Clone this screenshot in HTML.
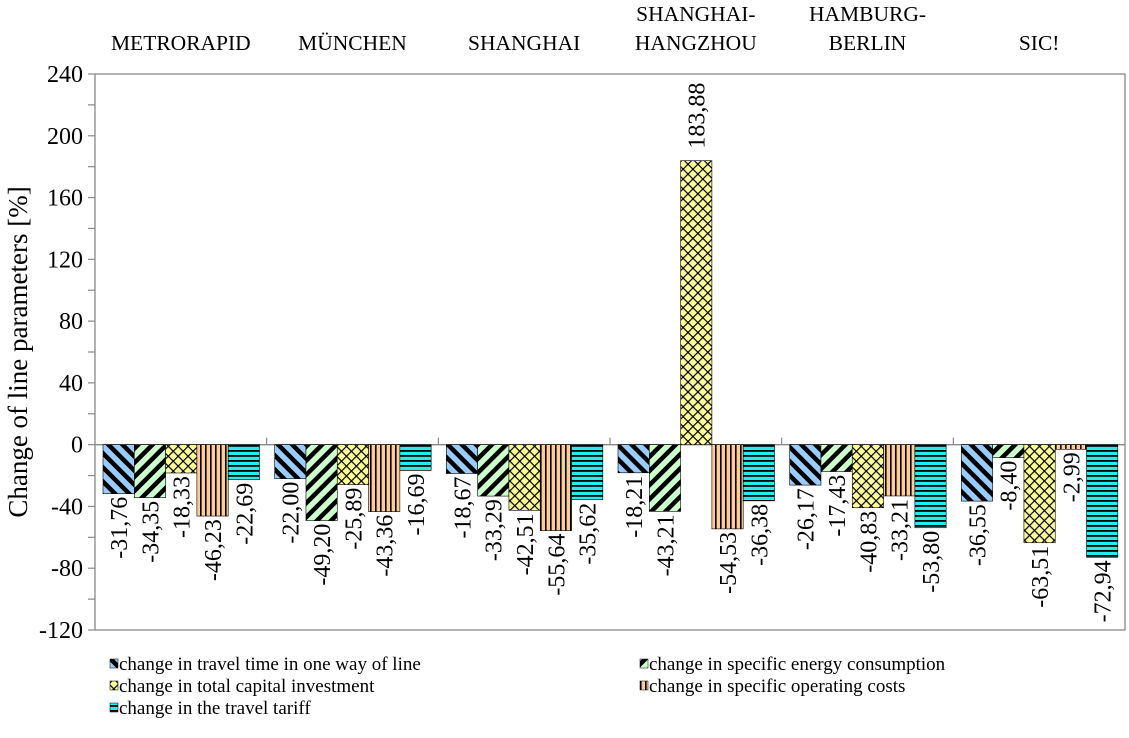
<!DOCTYPE html>
<html><head><meta charset="utf-8"><style>
html,body{margin:0;padding:0;background:#fff;}
svg{display:block;font-family:"Liberation Serif",serif;}
</style></head><body>
<svg id="chart" width="1129" height="738" viewBox="0 0 1129 738" xmlns="http://www.w3.org/2000/svg">
<defs>
<pattern id="p0" patternUnits="userSpaceOnUse" width="10" height="10" patternTransform="rotate(-45)"><rect width="10" height="10" fill="#99ccff"/><rect width="4.5" height="10" fill="#000"/></pattern>
<pattern id="p1" patternUnits="userSpaceOnUse" width="10" height="10" patternTransform="rotate(45)"><rect width="10" height="10" fill="#ccffcc"/><rect width="4.5" height="10" fill="#000"/></pattern>
<pattern id="p2" patternUnits="userSpaceOnUse" width="7" height="7" patternTransform="rotate(45)"><rect width="7" height="7" fill="#ffff99"/><rect width="1.2" height="7" fill="#000"/><rect width="7" height="1.2" fill="#000"/></pattern>
<pattern id="p3" patternUnits="userSpaceOnUse" width="5" height="5"><rect width="5" height="5" fill="#ffcc99"/><rect width="1.6" height="5" fill="#000"/></pattern>
<pattern id="p4" patternUnits="userSpaceOnUse" width="5" height="5"><rect width="5" height="5" fill="#22eeee"/><rect width="5" height="1.8" fill="#000"/></pattern>
</defs>
<g id="axes"></g>
<g id="bars"></g>
<g id="labels"></g>
<g id="legend"></g>
</svg>
<script>
const categories = [["METRORAPID"],["MÜNCHEN"],["SHANGHAI"],["SHANGHAI-","HANGZHOU"],["HAMBURG-","BERLIN"],["SIC!"]];
const seriesNames = ["change in travel time in one way of  line","change in specific energy consumption","change in total capital investment","change in specific operating costs","change in the travel tariff"];
const travelTime = [-31.76,-22.00,-18.67,-18.21,-26.17,-36.55];
const energy = [-34.35,-49.20,-33.29,-43.21,-17.43,-8.40];
const capital = [-18.33,-25.89,-42.51,183.88,-40.83,-63.51];
const operating = [-46.23,-43.36,-55.64,-54.53,-33.21,-2.99];
const tariff = [-22.69,-16.69,-35.62,-36.38,-53.80,-72.94];
const yTicks = [240,200,160,120,80,40,0,-40,-80,-120];
const series = [travelTime, energy, capital, operating, tariff];

const NS = "http://www.w3.org/2000/svg";
const L = 95, R = 1125, T = 74, B = 630, YMAX = 240, YMIN = -120;
const catW = (R - L) / categories.length;
const barW = 31.3, barOff = 8;
function y(v){ return T + (YMAX - v) / (YMAX - YMIN) * (B - T); }
function xBar(c, s){ return L + c * catW + barOff + s * barW; }
function mk(tag, attrs, parent){ const e = document.createElementNS(NS, tag); for (const k in attrs) e.setAttribute(k, attrs[k]); parent.appendChild(e); return e; }
function fmt(v){ return v.toFixed(2).replace('.', ','); }

const axes = document.getElementById('axes');
const frame = mk('rect', {x:L, y:T, width:R-L, height:B-T, fill:'none', stroke:'#888', 'stroke-width':1.3}, axes);


for (let v = YMIN; v <= YMAX; v += 20) {
  const t = mk('line', {x1:L-7, x2:L, y1:y(v), y2:y(v), stroke:'#888', 'stroke-width':1.2}, axes);
  
  
}
yTicks.forEach(v => {
  const t = mk('text', {x:83, y:y(v)+8, 'text-anchor':'end', 'font-size':24}, axes);
  t.textContent = v;
  
  
});
const zl = mk('line', {x1:L, x2:R, y1:y(0), y2:y(0), stroke:'#888', 'stroke-width':1.3}, axes);


for (let c = 1; c < categories.length; c++) {
  const t = mk('line', {x1:L+c*catW, x2:L+c*catW, y1:y(0)-7, y2:y(0), stroke:'#888', 'stroke-width':1.2}, axes);
  
  
}
const yt = mk('text', {x:0, y:0, 'text-anchor':'middle', 'font-size':27, transform:'translate(27,352) rotate(-90)'}, axes);
yt.textContent = 'Change of line parameters [%]';


categories.forEach((lines, c) => {
  const cx = L + c*catW + catW/2;
  lines.forEach((ln, i) => {
    const t = mk('text', {x:cx, y: lines.length === 1 ? 50 : 21 + i*29, 'text-anchor':'middle', 'font-size':21.5}, axes);
    t.textContent = ln;
    
    
  });
});

const bars = document.getElementById('bars');
const labels = document.getElementById('labels');
const FS = 24;
series.forEach((arr, s) => {
  arr.forEach((v, c) => {
    const x = xBar(c, s), y0 = y(0), y1 = y(v);
    const r = mk('rect', {x:x, y:Math.min(y0,y1), width:barW, height:Math.abs(y1-y0), fill:'url(#p'+s+')', stroke:'#000', 'stroke-width':0.6}, bars);
    
    
    const lx = x + barW/2 + FS*0.35;
    let t;
    if (v < 0) {
      t = mk('text', {x:0, y:0, 'text-anchor':'end', 'font-size':FS, transform:'translate('+lx+','+(y1+3)+') rotate(-90)'}, labels);
    } else {
      t = mk('text', {x:0, y:0, 'text-anchor':'start', 'font-size':FS, transform:'translate('+lx+','+(y1-12)+') rotate(-90)'}, labels);
    }
    t.textContent = fmt(v);
    
    
  });
});

const legend = document.getElementById('legend');
const legPos = [[110,665],[640,665],[110,687],[640,687],[110,709]];
seriesNames.forEach((n, s) => {
  const [lx, ly] = legPos[s];
  const sw = mk('rect', {x:lx, y:ly-6, width:8, height:9, fill:'url(#p'+s+')', stroke:'#000', 'stroke-width':0.5}, legend);
  
  
  const t = mk('text', {x:lx + 9, y:ly+5, 'font-size':19}, legend);
  t.setAttribute('xml:space', 'preserve');
  t.textContent = n;
  
  
});
</script>
</body></html>
